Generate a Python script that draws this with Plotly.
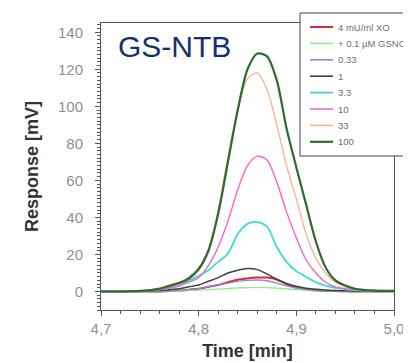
import plotly.graph_objects as go

# ---- data ----
time_min = [4.70, 4.72, 4.74, 4.76, 4.77, 4.78, 4.79, 4.80, 4.81, 4.82, 4.83, 4.84, 4.85,
            4.86, 4.87, 4.88, 4.89, 4.90, 4.91, 4.92, 4.93, 4.94, 4.95, 4.96, 4.98, 5.00]

xo_4mu = [0, 0, 0, 0, 0.2, 0.5, 1, 1.5, 2.5, 3.5, 5, 6.3, 7,
          7.5, 7.5, 6.5, 4, 2, 1, 0.5, 0.3, 0.2, 0.1, 0, 0, 0]
gsno_01 = [0, 0, 0, 0.1, 0.2, 0.3, 0.5, 0.7, 1, 1.3, 1.6, 1.9, 2.1,
           2.2, 2.1, 1.8, 1.4, 1, 0.7, 0.4, 0.3, 0.2, 0.1, 0, 0, 0]
c_033 = [0, 0, 0, 0.2, 0.4, 0.7, 1, 1.5, 2.5, 3.5, 4.5, 5.5, 6,
         6.2, 5.8, 4.5, 3, 1.8, 1, 0.6, 0.4, 0.3, 0.2, 0.1, 0, 0]
c_1 = [0, 0, 0.2, 0.5, 1, 1.5, 2.5, 3.5, 5.5, 7.5, 10, 11.5, 12.4,
       11.8, 9.5, 6.5, 4.3, 2.8, 1.8, 1.2, 0.8, 0.5, 0.4, 0.3, 0.2, 0.2]
c_3_3 = [0, 0, 0.3, 1, 2, 3, 6, 8.5, 11.5, 16, 20.5, 31, 36.5,
         37.5, 35, 24, 16, 11, 8, 5, 3.2, 2, 1.2, 0.8, 0.4, 0.3]
c_10 = [0, 0, 0.3, 1, 2, 3, 5, 7.5, 14, 24, 38, 55, 68,
        73, 71, 59, 43, 29, 17, 10, 5, 2.5, 1.5, 1, 0.5, 0.3]
c_33 = [0, 0, 0.4, 2, 3.5, 5, 8, 13, 23, 44, 73, 98, 115,
        118, 109, 90, 68, 50, 31, 18, 10, 5, 2.5, 1.5, 0.5, 0.3]
c_100 = [0, 0, 0.3, 1.5, 3, 4.5, 7, 12, 22, 42, 70, 98, 120,
         128.5, 127, 114, 88, 67, 47, 27, 13, 6, 3.2, 1.5, 0.5, 0.3]

series_names = ["4 mU/ml XO", "+ 0.1 µM GSNO", "0.33", "1", "3.3", "10", "33", "100"]
series_values = [xo_4mu, gsno_01, c_033, c_1, c_3_3, c_10, c_33, c_100]
series_colors = ["#e0283c", "#8fe88f", "#8a8ccc", "#3f3f3f", "#3cdcd2", "#f064cc", "#f2b48c", "#2f6a2f"]
series_widths = [2, 1.3, 1.3, 1.5, 1.8, 1.4, 1.3, 2.2]

x_ticks = [4.7, 4.8, 4.9, 5.0]
y_ticks = [0, 20, 40, 60, 80, 100, 120, 140]

font = "Liberation Sans, Arial, sans-serif"

W, H = 411, 363
ML, MR, MT, MB = 93, 25, 15, 61


def px_x(p):
    return (p - ML) / (W - ML - MR)


def px_y(p):
    return (H - MB - p) / (H - MT - MB)


fig = go.Figure()
for name, vals, col, w in zip(series_names, series_values, series_colors, series_widths):
    fig.add_trace(go.Scatter(x=time_min, y=vals, name=name, mode="lines", showlegend=False,
                             line=dict(color=col, width=w, shape="spline", smoothing=0.8),
                             hoverinfo="skip"))

axis_common = dict(showline=True, linecolor="#555555", linewidth=1, mirror=True,
                   showgrid=False, zeroline=False, ticks="outside", ticklen=5,
                   tickcolor="#555555", tickfont=dict(family=font, size=15, color="#8f8f8f"))

fig.update_xaxes(range=[4.7, 5.0], tickvals=x_ticks, tickformat=".1f",
                 minor=dict(dtick=0.02, ticks="outside", ticklen=3, tickcolor="#555555"),
                 title=dict(text="<b>Time [min]</b>", standoff=8,
                            font=dict(family=font, size=18, color="#333333")),
                 **axis_common)
fig.update_yaxes(range=[-10, 145], tickvals=y_ticks, ticklabelstandoff=9,
                 minor=dict(dtick=2, ticks="outside", ticklen=3, tickcolor="#555555"),
                 title=dict(text="<b>Response [mV]</b>", standoff=14,
                            font=dict(family=font, size=18, color="#333333")),
                 **axis_common)

fig.add_annotation(text="GS-NTB", xref="paper", yref="paper", x=px_x(166), y=px_y(38),
                   xanchor="center", yanchor="middle",
                   showarrow=False, font=dict(family=font, size=30, color="#14306e"))

# ---- legend box drawn as layout shapes/annotations ----
leg_left, leg_top, leg_bottom = 292, 5, 148
entry_y0, entry_step = 19, 16.4
fig.add_shape(type="rect", xref="paper", yref="paper",
              x0=px_x(leg_left), x1=px_x(430), y0=px_y(leg_bottom), y1=px_y(leg_top),
              line=dict(color="#444444", width=1), fillcolor="white", layer="above")
for i, (name, col, w) in enumerate(zip(series_names, series_colors, series_widths)):
    yy = px_y(entry_y0 + entry_step * i)
    fig.add_shape(type="line", xref="paper", yref="paper",
                  x0=px_x(302), x1=px_x(325), y0=yy, y1=yy,
                  line=dict(color=col, width=max(w, 1.6)), layer="above")
    fig.add_annotation(text=name, xref="paper", yref="paper", x=px_x(329), y=yy,
                       xanchor="left", yanchor="middle", showarrow=False, borderpad=0,
                       font=dict(family=font, size=9.5, color="#6f6f6f"))

fig.update_layout(
    width=W, height=H,
    margin=dict(l=ML, r=MR, t=MT, b=MB, autoexpand=False),
    paper_bgcolor="white", plot_bgcolor="white",
    separators=",.",
    showlegend=False,
)

fig.write_html("out.html")
